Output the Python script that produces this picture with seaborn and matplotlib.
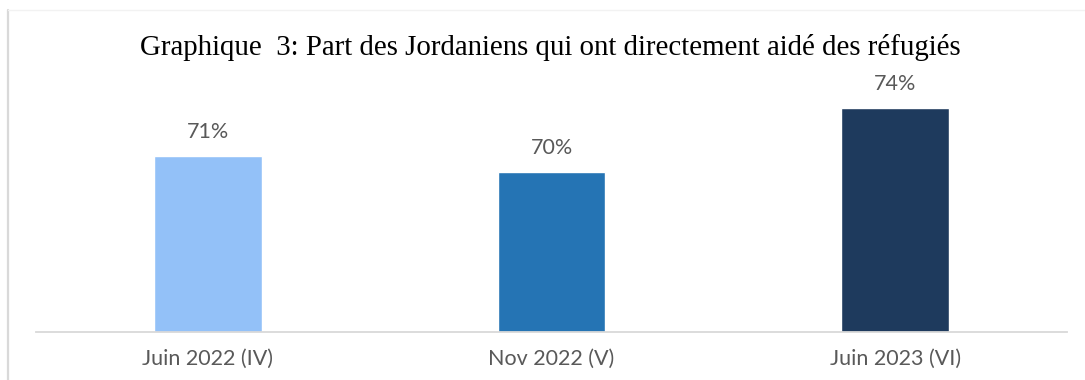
import matplotlib
matplotlib.use("Agg")
import matplotlib.pyplot as plt
from matplotlib.lines import Line2D
import seaborn as sns
import pandas as pd

# Survey waves and share of Jordanians who directly helped refugees (%)
waves = ["Juin 2022 (IV)", "Nov 2022 (V)", "Juin 2023 (VI)"]
shares = [71, 70, 74]
bar_colors = ["#93C1F8", "#2574B4", "#1E3A5D"]
title = "Graphique  3: Part des Jordaniens qui ont directement aidé des réfugiés"

df = pd.DataFrame({"vague": waves, "part": shares})

sns.set_theme(style="white")
plt.rcParams["font.family"] = ["Lato", "DejaVu Sans"]

W, H = 1085, 380
fig = plt.figure(figsize=(W / 100, H / 100), dpi=100)
ax = fig.add_axes([36 / W, (H - 332) / H, (1067 - 36) / W, (332 - 12) / H])

sns.barplot(data=df, x="vague", y="part", hue="vague", palette=bar_colors,
            width=0.314, legend=False, ax=ax, saturation=1)

ax.set_ylim(60, 80)
ax.set_xlim(-0.5, len(waves) - 0.5)
ax.set_xlabel("")
ax.set_ylabel("")
ax.set_yticks([])
for side in ["top", "right", "left"]:
    ax.spines[side].set_visible(False)
ax.spines["bottom"].set_color("#D9D9D9")
ax.spines["bottom"].set_linewidth(1.3)
ax.tick_params(axis="x", length=0, pad=12, labelsize=15.5, labelcolor="#595959")

# value labels above bars
for i, v in enumerate(shares):
    ax.annotate(f"{v}%", xy=(i, v), xytext=(0, 13), textcoords="offset points",
                ha="center", va="baseline", fontsize=15.5, color="#595959")

fig.text(550 / W, (H - 55) / H, title, ha="center", va="baseline",
         fontsize=20.8, family=["Liberation Serif", "DejaVu Serif"], color="black")

# chart-area frame (left and top edges)
fig.add_artist(Line2D([7.5 / W, 7.5 / W], [0, (H - 10) / H], transform=fig.transFigure,
                      color="#D9D9D9", lw=1.6))
fig.add_artist(Line2D([7.5 / W, 1], [(H - 10) / H, (H - 10) / H], transform=fig.transFigure,
                      color="#F2F2F2", lw=1.0))

fig.savefig("out.png", dpi=100)
